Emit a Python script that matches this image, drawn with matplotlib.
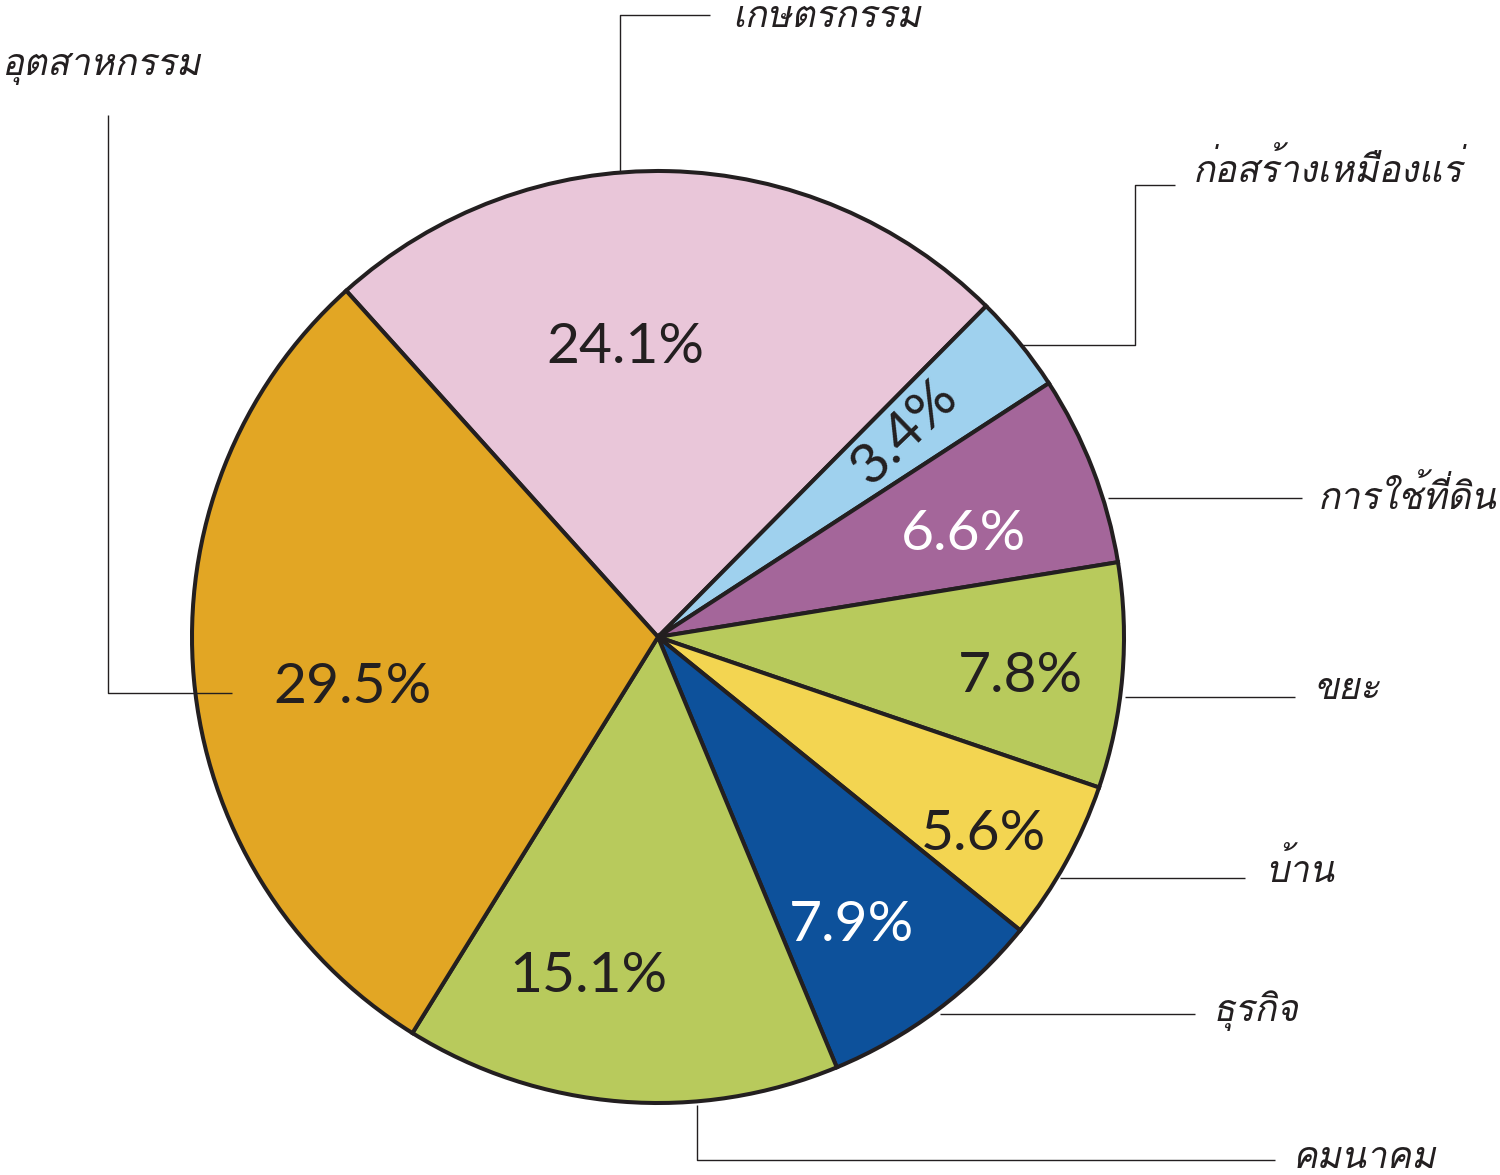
import matplotlib
matplotlib.use("Agg")
import matplotlib.pyplot as plt
from matplotlib import font_manager
from matplotlib.ft2font import FT2Font

# data, clockwise from the pink slice
categories = ["เกษตรกรรม", "ก่อสร้างเหมืองแร่", "การใช้ที่ดิน", "ขยะ", "บ้าน",
              "ธุรกิจ", "คมนาคม", "อุตสาหกรรม"]
values = [24.1, 3.4, 6.6, 7.8, 5.6, 7.9, 15.1, 29.5]
colors = ["#E9C6D9", "#9FD1EE", "#A4669A", "#B8CA5C", "#F3D551",
          "#0D519B", "#B8CA5C", "#E2A624"]
pct_colors = ["#231F20", "#231F20", "white", "#231F20", "#231F20",
              "white", "#231F20", "#231F20"]


# find a font that has thai glyphs
def thai_font():
    for f in font_manager.fontManager.ttflist:
        try:
            if 0x0E01 in FT2Font(f.fname).get_charmap():
                return f.name
        except Exception:
            pass
    return "DejaVu Sans"


thai = thai_font()

W, H = 1500, 1175
CX, CY, R = 658, 637, 466   # pie centre / radius in pixels


def px(x, y):
    return (x - CX) / R, (CY - y) / R


fig = plt.figure(figsize=(W / 100, H / 100), dpi=100)
ax = fig.add_axes([0, 0, 1, 1])

wedges, texts, autotexts = ax.pie(
    values, colors=colors, startangle=132, counterclock=False,
    autopct="%.1f%%",
    wedgeprops=dict(edgecolor="#231F20", linewidth=2.9),
    textprops=dict(fontsize=41, family=["Lato", "DejaVu Sans"]))

# percent label placement (pixels) and rotation
pct_pos = [(625, 348), (905, 432), (963, 535), (1020, 677),
           (983, 835), (852, 926), (588, 977), (352, 688)]
pct_rot = [0, 44, 0, 0, 0, 0, 0, 0]
for t, p, r, c in zip(autotexts, pct_pos, pct_rot, pct_colors):
    t.set_position(px(*p))
    t.set_rotation(r)
    t.set_color(c)
    t.set_ha("center")
    t.set_va("center")

# leader lines and category labels (pixels)
leaders = [
    [(620, 172), (620, 15), (710, 15)],
    [(1020, 345), (1135, 345), (1135, 185), (1175, 185)],
    [(1108, 498), (1302, 498)],
    [(1125, 697), (1295, 697)],
    [(1060, 878), (1245, 878)],
    [(940, 1014), (1195, 1014)],
    [(697, 1105), (697, 1160), (1275, 1160)],
    [(232, 693), (108, 693), (108, 115)],
]
label_pos = [(732, 18), (1193, 170), (1318, 497), (1313, 690),
             (1265, 870), (1213, 1011), (1293, 1158), (2, 68)]

for pts, lp, name in zip(leaders, label_pos, categories):
    xs, ys = zip(*[px(*p) for p in pts])
    ax.plot(xs, ys, color="#231F20", lw=1.0, solid_capstyle="butt")
    ax.text(*px(*lp), name, ha="left", va="center", fontsize=26.5,
            style="italic", color="#231F20", family=[thai, "DejaVu Sans"])

ax.set_xlim(-CX / R, (W - CX) / R)
ax.set_ylim(-(H - CY) / R, CY / R)
ax.set_aspect("equal", adjustable="box")
ax.axis("off")

fig.savefig("out.png", dpi=100)
